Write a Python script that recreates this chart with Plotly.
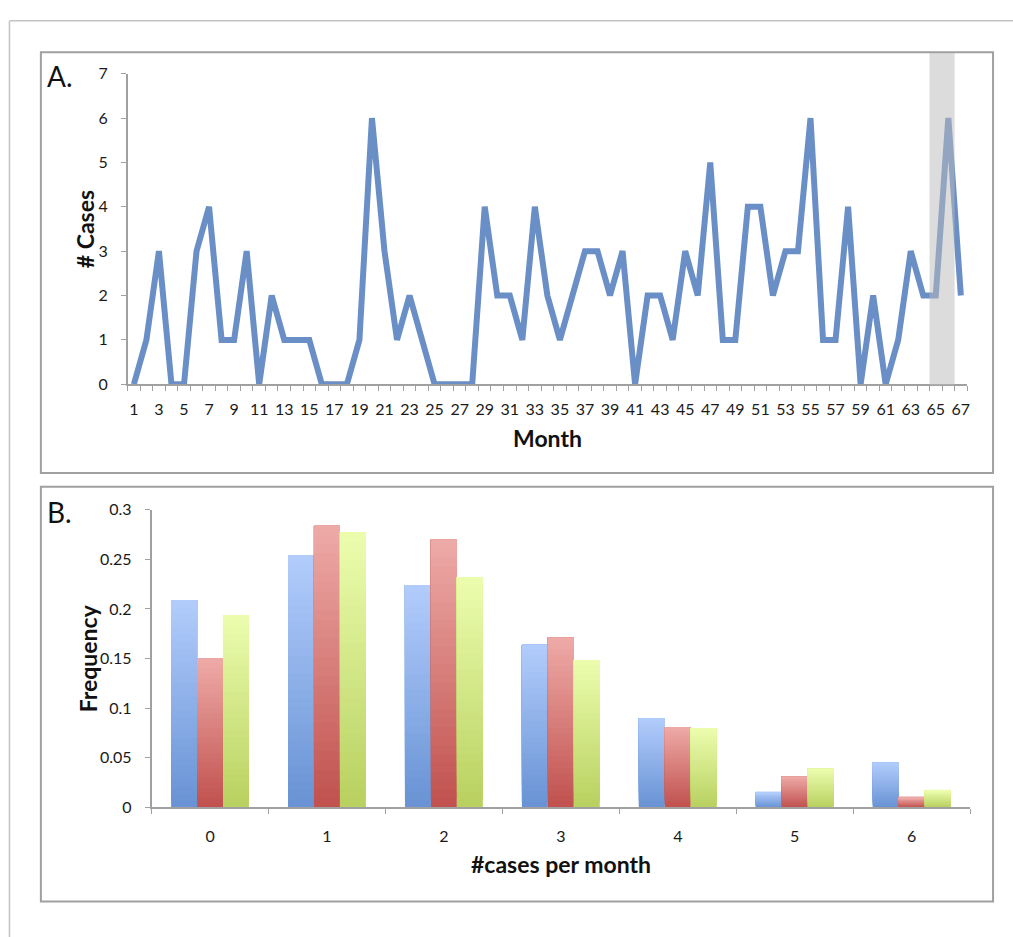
import plotly.graph_objects as go

# ---------------- data ----------------
months = list(range(1, 68))
cases = [0, 1, 3, 0, 0, 3, 4, 1, 1, 3, 0, 2, 1, 1, 1, 0, 0, 0, 1, 6,
         3, 1, 2, 1, 0, 0, 0, 0, 4, 2, 2, 1, 4, 2, 1, 2, 3, 3, 2, 3,
         0, 2, 2, 1, 3, 2, 5, 1, 1, 4, 4, 2, 3, 3, 6, 1, 1, 4, 0, 2,
         0, 1, 3, 2, 2, 6, 2]
month_ticks = list(range(1, 68, 2))
highlight = [64.5, 66.5]

cases_per_month = [0, 1, 2, 3, 4, 5, 6]
freq_blue = [0.209, 0.254, 0.224, 0.164, 0.090, 0.015, 0.045]
freq_red = [0.150, 0.284, 0.270, 0.171, 0.081, 0.031, 0.010]
freq_green = [0.194, 0.277, 0.232, 0.1485, 0.080, 0.039, 0.017]
freq_ticks = [0, 0.05, 0.1, 0.15, 0.2, 0.25, 0.3]
freq_labels = ["0", "0.05", "0.1", "0.15", "0.2", "0.25", "0.3"]

W, H = 1013, 937
FONT = "Lato"
AX = "#a0a0a0"


def px(x):
    return x / W


def py(y):
    return 1 - y / H


fig = go.Figure()

# ---------------- panel A ----------------
fig.add_trace(go.Scatter(x=months, y=cases, mode="lines",
                         line=dict(color="#6a8fc6", width=6),
                         xaxis="x", yaxis="y", showlegend=False,
                         hoverinfo="x+y"))

# ---------------- panel B (gradient bars) ----------------
N = 30
bw = 0.222


def hex2rgb(h):
    h = h.lstrip("#")
    return tuple(int(h[i:i + 2], 16) for i in (0, 2, 4))


def mix(c1, c2, t):
    a, b = hex2rgb(c1), hex2rgb(c2)
    return "rgb(%d,%d,%d)" % tuple(round(a[k] + (b[k] - a[k]) * t) for k in range(3))


series = [
    (freq_blue, "#6892d4", "#b2cdfc", -1.5 * bw),
    (freq_red, "#c0504d", "#eeaba8", -0.5 * bw),
    (freq_green, "#b8d05f", "#ecfdae", 0.5 * bw),
]
for vals, cbot, ctop, off in series:
    for i in range(N):
        t = (i + 0.5) / N
        fig.add_trace(go.Bar(
            x=cases_per_month,
            y=[v * (N - i) / N for v in vals],
            base=[v * i / N for v in vals],
            width=bw, offset=off,
            marker=dict(color=mix(cbot, ctop, t), line=dict(width=0)),
            xaxis="x2", yaxis="y2", showlegend=False, hoverinfo="skip"))

tickfont = dict(family=FONT, size=16, color="#1a1a1a")

fig.update_layout(
    width=W, height=H, autosize=False,
    margin=dict(l=0, r=0, t=0, b=0),
    paper_bgcolor="white", plot_bgcolor="white",
    barmode="overlay",
    font=dict(family=FONT),
    xaxis=dict(domain=[px(128), px(970)], range=[0.5, 67.5],
               tickmode="array", tickvals=month_ticks,
               ticktext=[str(m) for m in month_ticks],
               ticks="", showgrid=False, zeroline=False,
               showline=True, linecolor=AX, linewidth=1.5,
               tickfont=tickfont, ticklabelstandoff=10,
               minor=dict(ticks="outside", tick0=0.5, dtick=1,
                          ticklen=5, tickcolor=AX, tickwidth=1, showgrid=False),
               anchor="y", fixedrange=True),
    yaxis=dict(domain=[py(382), py(65)], range=[0, 7],
               tickmode="linear", tick0=0, dtick=1,
               ticks="outside", ticklen=5, tickcolor=AX,
               showgrid=False, zeroline=False,
               showline=True, linecolor=AX, linewidth=1.5,
               tickfont=tickfont, ticklabelstandoff=10,
               anchor="x", fixedrange=True),
    xaxis2=dict(domain=[px(152), px(973)], range=[-0.5, 6.5],
                tickmode="array", tickvals=cases_per_month,
                ticktext=[str(c) for c in cases_per_month],
                ticks="", showgrid=False, zeroline=False,
                showline=True, linecolor=AX, linewidth=1.5,
                tickfont=tickfont, ticklabelstandoff=14,
                minor=dict(ticks="outside", tick0=-0.5, dtick=1,
                           ticklen=5, tickcolor=AX, tickwidth=1, showgrid=False),
                anchor="y2", fixedrange=True),
    yaxis2=dict(domain=[py(814), py(510)], range=[0, 0.3],
                tickmode="array", tickvals=freq_ticks, ticktext=freq_labels,
                ticks="outside", ticklen=5, tickcolor=AX,
                showgrid=False, zeroline=False,
                showline=True, linecolor=AX, linewidth=1.5,
                tickfont=tickfont, ticklabelstandoff=10,
                anchor="x2", fixedrange=True),
)

shapes = [
    dict(type="line", xref="paper", yref="paper", x0=px(9.5), x1=1.01,
         y0=py(11), y1=py(11), line=dict(color="#c4c4c4", width=1.5)),
    dict(type="line", xref="paper", yref="paper", x0=px(9.5), x1=px(9.5),
         y0=py(11), y1=-0.01, line=dict(color="#c4c4c4", width=1.5)),
    dict(type="rect", xref="paper", yref="paper", x0=px(41), x1=px(996),
         y0=py(472.5), y1=py(43), line=dict(color="#a0a0a0", width=2)),
    dict(type="rect", xref="paper", yref="paper", x0=px(41), x1=px(996),
         y0=py(910), y1=py(486.5), line=dict(color="#a0a0a0", width=2)),
    dict(type="rect", xref="x", yref="paper", x0=highlight[0], x1=highlight[1],
         y0=py(383), y1=py(44), fillcolor="rgba(186,186,186,0.51)",
         line=dict(width=0), layer="above"),
]
fig.update_layout(shapes=shapes)

title_font = dict(family=FONT, size=23, color="#111111")
annotations = [
    dict(text="A.", x=px(45), y=py(67), xanchor="left", yanchor="middle",
         font=dict(family=FONT, size=28, color="#111111")),
    dict(text="B.", x=px(45), y=py(512), xanchor="left", yanchor="middle",
         font=dict(family=FONT, size=28, color="#111111")),
    dict(text="<b># Cases</b>", x=px(86), y=py(224), textangle=-90,
         xanchor="center", yanchor="middle", font=title_font),
    dict(text="<b>Month</b>", x=px(549), y=py(437),
         xanchor="center", yanchor="middle", font=title_font),
    dict(text="<b>Frequency</b>", x=px(88), y=py(662), textangle=-90,
         xanchor="center", yanchor="middle", font=title_font),
    dict(text="<b>#cases per month</b>", x=px(563), y=py(872),
         xanchor="center", yanchor="middle", font=title_font),
]
for a in annotations:
    a.update(xref="paper", yref="paper", showarrow=False)
fig.update_layout(annotations=annotations)

fig.write_html(
    "out.html",
    config=dict(displayModeBar=False, responsive=False),
    post_script=(
        "document.documentElement.style.margin='0px';"
        "document.documentElement.style.padding='0px';"
        "document.documentElement.style.overflow='hidden';"
        "document.body.style.margin='0px';"
        "document.body.style.padding='0px';"
        "document.body.style.overflow='hidden';"
    ),
)
